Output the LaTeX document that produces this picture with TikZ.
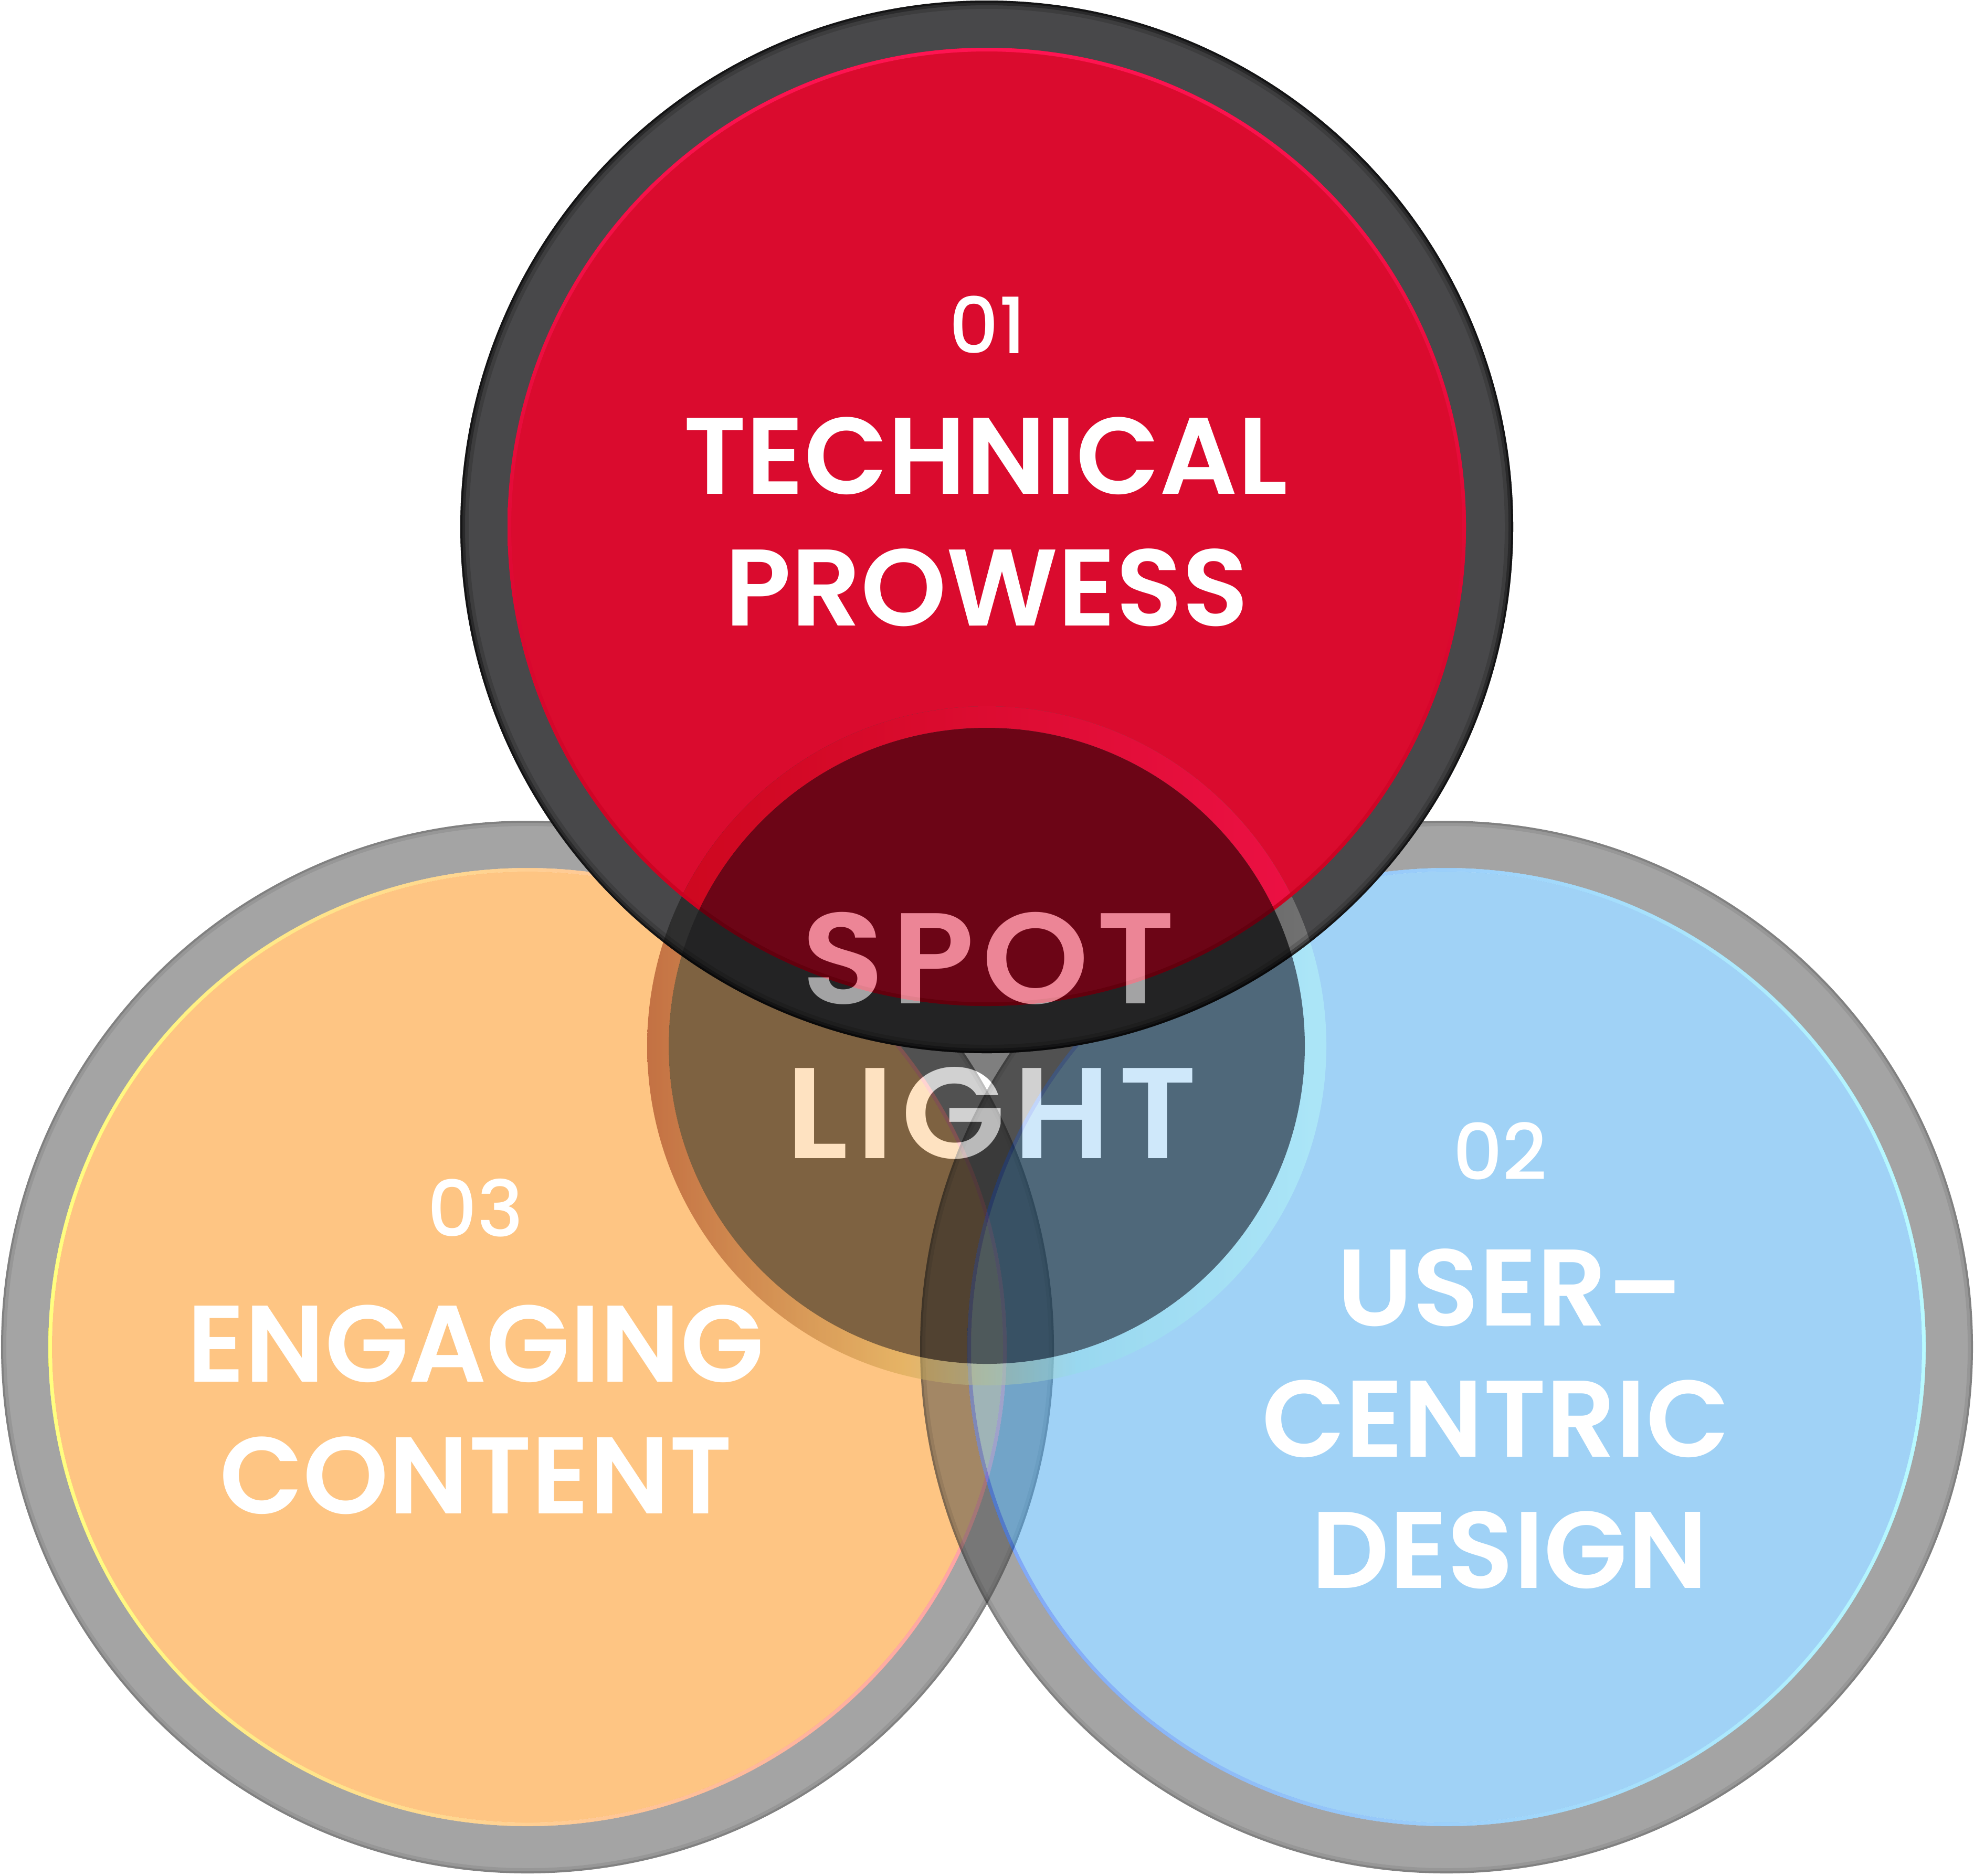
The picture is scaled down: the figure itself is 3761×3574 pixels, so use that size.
\documentclass[tikz,border=0pt]{standalone}
\usepackage{fontspec}
\usetikzlibrary{positioning}
\newfontfamily\popsemi{Poppins SemiBold}
\newfontfamily\popmed{Poppins Medium}
\newfontfamily\popspot{Poppins SemiBold}[LetterSpace=6, FakeStretch=1.05]
\definecolor{ringgray}{HTML}{4A4A4A}
\definecolor{topgray}{HTML}{48484A}
\definecolor{techred}{HTML}{DA0B2E}
\definecolor{redhi}{HTML}{FF1452}
\definecolor{redlo}{HTML}{C4001A}
\definecolor{orangefill}{HTML}{FD8B07}
\definecolor{bluefill}{HTML}{41A5ED}
\definecolor{edgeyellow}{RGB}{255,255,0}
\definecolor{edgepink}{RGB}{255,65,79}
\definecolor{edgeblue}{RGB}{0,75,237}
\definecolor{edgecyan}{RGB}{113,245,255}
\definecolor{glowredL}{RGB}{204,7,29}
\definecolor{glowredR}{RGB}{237,17,69}
\definecolor{glowgrayL}{RGB}{43,43,43}
\definecolor{glowgrayR}{RGB}{115,115,115}
\pgfdeclarehorizontalshading{spotglow}{100bp}{rgb(0bp)=(0.541,0.122,0.020); rgb(25bp)=(0.541,0.122,0.020); rgb(43.8bp)=(0.808,0.639,0.286); rgb(56.6bp)=(0.580,0.871,0.918); rgb(75bp)=(0.722,0.980,0.980); rgb(100bp)=(0.722,0.980,0.980)}

\begin{document}
\begin{tikzpicture}[x=0.01cm, y=-0.01cm,
    ringband/.style={fill=ringgray, opacity=0.5, even odd rule},
    numlbl/.style={text=white, font=\popmed\fontsize{42}{44}\selectfont, anchor=base, inner sep=0pt},
    titlelbl/.style={text=white, font=\popsemi\fontsize{59}{62}\selectfont, anchor=base, inner sep=0pt},
    spotlbl/.style={text=white, font=\popspot\fontsize{70}{72}\selectfont, anchor=base, inner sep=0pt}
  ]
  \useasboundingbox (0,0) rectangle (3761,3574);
  \coordinate (c1) at (1880,1004);
  \coordinate (c2) at (2756,2567);
  \coordinate (c3) at (1005,2567);
  \coordinate (cs) at (1880,1993);

  % 03 - engaging content
  \fill[ringband] (c3) circle (1003) circle (913);
  \foreach \r/\w/\o in {1001/0.04/0.15, 998/0.10/0.08}
    \draw[black, opacity=\o, line width=\w cm] (c3) circle (\r);
  \fill[orangefill, opacity=0.5] (c3) circle (906);
  \shade[left color=edgeyellow, right color=edgepink, opacity=0.5, even odd rule] (c3) circle (913) circle (906);

  % 02 - user-centric design
  \fill[ringband] (c2) circle (1003) circle (913);
  \foreach \r/\w/\o in {1001/0.04/0.15, 998/0.10/0.08}
    \draw[black, opacity=\o, line width=\w cm] (c2) circle (\r);
  \fill[bluefill, opacity=0.5] (c2) circle (906);
  \shade[left color=edgeblue, right color=edgecyan, opacity=0.5, even odd rule] (c2) circle (913) circle (906);

  % glow round the spotlight
  \shade[shading=spotglow, opacity=0.5, even odd rule] (cs) circle (647) circle (606);

  % 01 - technical prowess
  \fill[topgray] (c1) circle (1003);
  \fill[techred] (c1) circle (913);
  \begin{scope}
    \clip (c1) circle (1003);
    \shade[left color=glowgrayL, right color=glowgrayR, even odd rule] (cs) circle (647) circle (606);
  \end{scope}
  \begin{scope}
    \clip (c1) circle (907);
    \shade[left color=glowredL, right color=glowredR, even odd rule] (cs) circle (647) circle (606);
  \end{scope}
  \shade[top color=redhi, bottom color=redlo, even odd rule] (c1) circle (913) circle (906);
  \foreach \r/\w/\o in {1001/0.04/0.5, 998.5/0.09/0.3, 995/0.16/0.15}
    \draw[black, opacity=\o, line width=\w cm] (c1) circle (\r);

  % spotlight
  \begin{scope}[transparency group, opacity=0.5]
    \fill[black] (cs) circle (606);
    \node[spotlbl] (spot) at (1883,1912) {SPOT};
    \node[spotlbl] (light) at (1889,2207) {LIGHT};
  \end{scope}

  \node[numlbl] (num1) at (1882,673) {01};
  \node[titlelbl] (tech) at (1878,941) {TECHNICAL};
  \node[titlelbl] (prow) at (1880,1192) {PROWESS};

  \node[numlbl] (num2) at (2858,2248) {02};
  \node[titlelbl] (user) at (2877,2526) {USER–};
  \node[titlelbl] (cent) at (2850,2776) {CENTRIC};
  \node[titlelbl] (desg) at (2876,3026) {DESIGN};

  \node[numlbl] (num3) at (906,2356) {03};
  \node[titlelbl] (enga) at (906,2633) {ENGAGING};
  \node[titlelbl] (cont) at (907,2884) {CONTENT};
\end{tikzpicture}
\end{document}
